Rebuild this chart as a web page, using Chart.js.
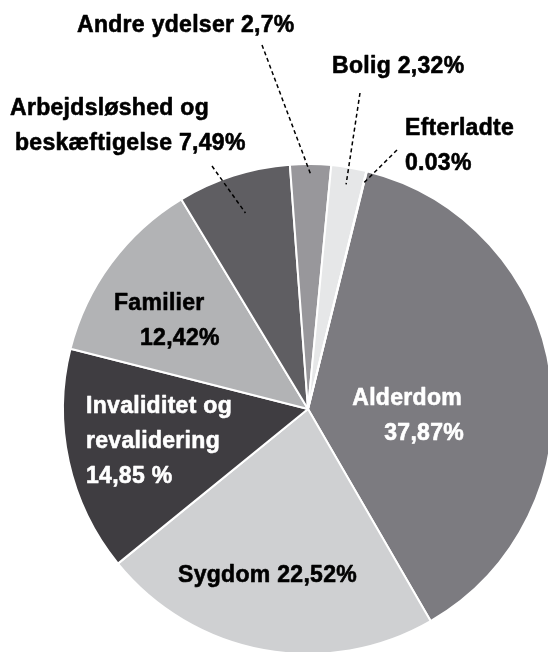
<!DOCTYPE html>
<html>
<head>
<meta charset="utf-8">
<script src="https://cdn.jsdelivr.net/npm/chart.js@4/dist/chart.umd.min.js"></script>
<style>
  html, body { margin: 0; padding: 0; background: #fff; width: 548px; height: 652px; overflow: hidden; }
  #wrap { position: absolute; left: 0; top: 0; width: 600px; height: 700px; }
</style>
</head>
<body>
<div id="wrap"><canvas id="pieCanvas" width="600" height="700"></canvas></div>
<script>
// data
var categories = ['Alderdom', 'Sygdom', 'Invaliditet og revalidering', 'Familier',
    'Arbejdsløshed og beskæftigelse', 'Andre ydelser', 'Bolig', 'Efterladte'];
var shares = [37.87, 22.52, 14.85, 12.42, 7.49, 2.7, 2.32, 0.03];
var labelLines = [
    ['Alderdom', '37,87%'],
    ['Sygdom 22,52%'],
    ['Invaliditet og', 'revalidering', '14,85 %'],
    ['Familier', '12,42%'],
    ['Arbejdsløshed og', 'beskæftigelse 7,49%'],
    ['Andre ydelser 2,7%'],
    ['Bolig 2,32%'],
    ['Efterladte', '0.03%']
];

// styles
var sliceColors = ['#7c7b80', '#cfd0d2', '#3f3d41', '#b2b3b5', '#5f5e62', '#98979b', '#e6e7e8', '#ffffff'];

// where each label goes (x, first baseline), and leader lines for the small slices
var labelLayout = [
    { x: 462, y: 405, align: 'right', color: '#fff', lines: [{ dx: 0 }, { dx: 2 }] },
    { x: 178, y: 582, align: 'left', color: '#000' },
    { x: 86, y: 413, align: 'left', color: '#fff' },
    { x: 114, y: 310, align: 'left', color: '#000', lines: [{ dx: 0 }, { dx: 26 }] },
    { x: 10, y: 115, align: 'left', color: '#000', lines: [{ dx: 0 }, { dx: 5 }], leader: { from: [212, 166], r: 0.84 } },
    { x: 77, y: 32, align: 'left', color: '#000', leader: { from: [262, 45], r: 0.96 } },
    { x: 332, y: 73, align: 'left', color: '#000', leader: { from: [360, 93], r: 0.93 } },
    { x: 405, y: 135, align: 'left', color: '#000', leader: { from: [397, 150], r: 0.95 } }
];
var lineHeight = 35;

var pieLabels = {
    id: 'pieLabels',
    afterDraw: function (chart) {
        var ctx = chart.ctx;
        var meta = chart.getDatasetMeta(0);
        ctx.save();

        // leader lines
        ctx.setLineDash([4, 3]);
        ctx.lineWidth = 1.5;
        ctx.strokeStyle = '#000';
        labelLayout.forEach(function (lay, i) {
            if (!lay.leader) return;
            var arc = meta.data[i].getProps(['x', 'y', 'startAngle', 'endAngle', 'outerRadius'], true);
            var mid = (arc.startAngle + arc.endAngle) / 2;
            var r = arc.outerRadius * lay.leader.r;
            ctx.beginPath();
            ctx.moveTo(lay.leader.from[0], lay.leader.from[1]);
            ctx.lineTo(arc.x + Math.cos(mid) * r, arc.y + Math.sin(mid) * r);
            ctx.stroke();
        });
        ctx.setLineDash([]);

        // texts (a thin stroke makes them a bit heavier, like the original)
        ctx.font = 'bold 23px "Liberation Sans", Arial, sans-serif';
        ctx.letterSpacing = '0.3px';
        ctx.textBaseline = 'alphabetic';
        ctx.lineWidth = 0.6;
        ctx.lineJoin = 'round';
        labelLayout.forEach(function (lay, i) {
            ctx.fillStyle = lay.color;
            ctx.strokeStyle = lay.color;
            ctx.textAlign = lay.align;
            labelLines[i].forEach(function (txt, j) {
                var dx = lay.lines && lay.lines[j] ? lay.lines[j].dx : 0;
                ctx.fillText(txt, lay.x + dx, lay.y + j * lineHeight);
                ctx.strokeText(txt, lay.x + dx, lay.y + j * lineHeight);
            });
        });
        ctx.restore();
    }
};

var ctx = document.getElementById('pieCanvas').getContext('2d');
var chart = new Chart(ctx, {
    type: 'pie',
    data: {
        labels: categories,
        datasets: [{
            data: shares,
            backgroundColor: sliceColors,
            borderColor: '#ffffff',
            borderWidth: 2
        }]
    },
    options: {
        responsive: false,
        animation: false,
        rotation: 13.9,
        layout: {
            padding: { left: 62, top: 163, right: 46, bottom: 45 }
        },
        plugins: {
            legend: { display: false },
            tooltip: { enabled: false }
        }
    },
    plugins: [pieLabels]
});
</script>
</body>
</html>
